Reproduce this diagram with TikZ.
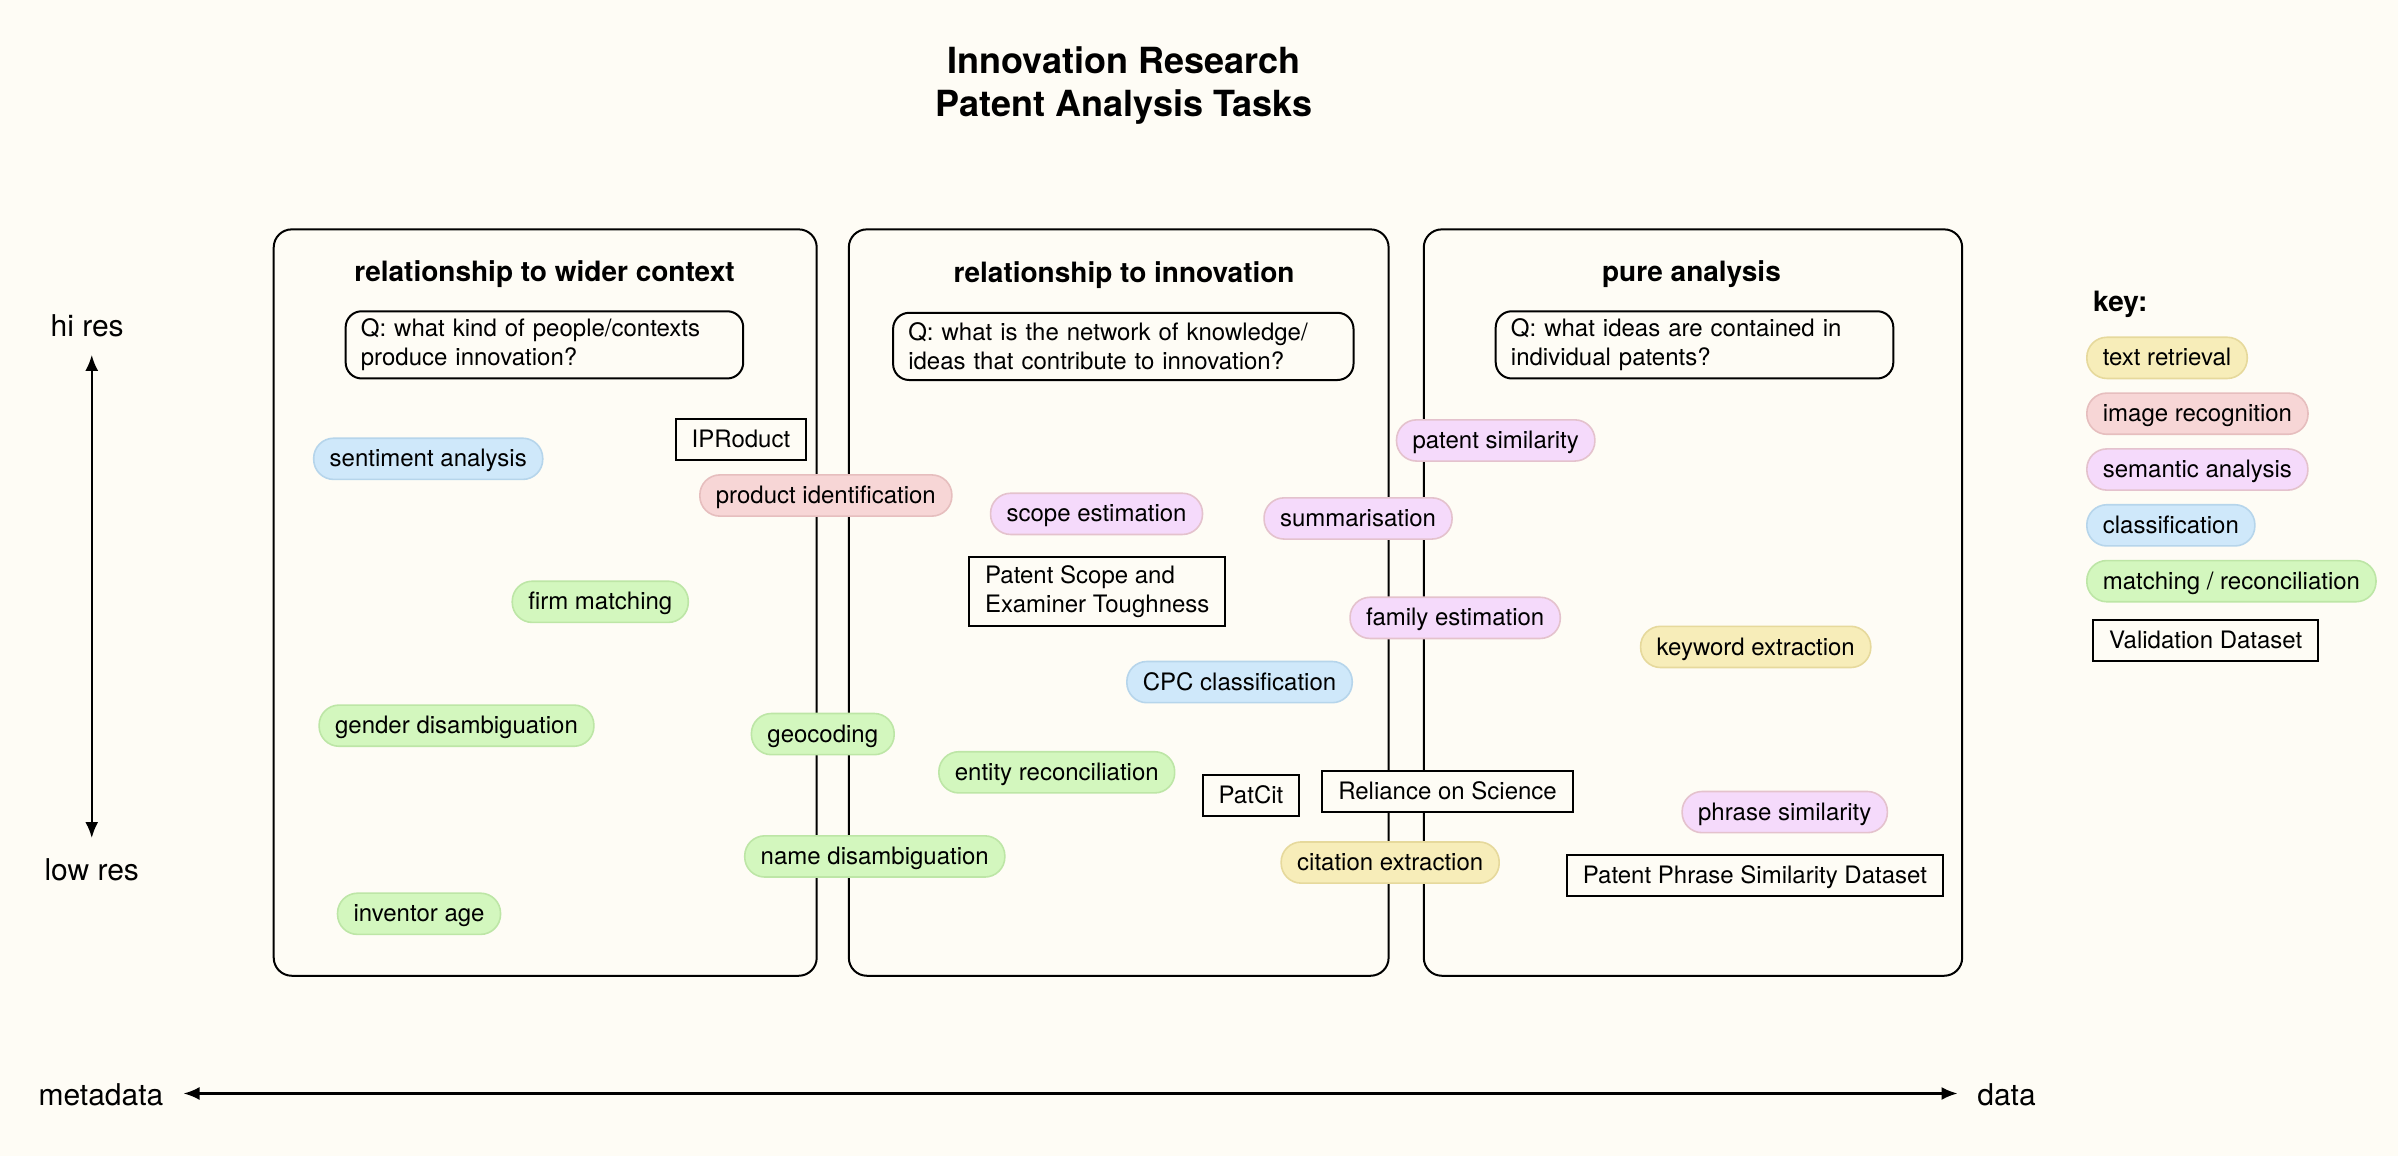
\documentclass[tikz,border=0pt]{standalone}
\usepackage{fontspec}
\setmainfont{TeX Gyre Heros}
\usetikzlibrary{arrows.meta}

\definecolor{bg}{HTML}{FEFCF5}
\definecolor{yelF}{HTML}{F7EDB9}\definecolor{yelD}{HTML}{E6D99C}
\definecolor{redF}{HTML}{F7D6D6}\definecolor{redD}{HTML}{E6BEBE}
\definecolor{purF}{HTML}{F5DAFB}\definecolor{purD}{HTML}{E4C2CD}
\definecolor{bluF}{HTML}{CFE8FA}\definecolor{bluD}{HTML}{B6D5EB}
\definecolor{grnF}{HTML}{D3F7BE}\definecolor{grnD}{HTML}{BDE6A6}

\newcommand{\normtxt}{\fontsize{12}{14.4}\selectfont}

\tikzset{
  pill/.style={line width=0.8pt, rounded corners=10pt, minimum height=20.6pt,
    inner xsep=8pt, inner ysep=0pt, text height=9.6pt, text depth=1.5pt, font=\normtxt},
  textret/.style={pill, fill=yelF, draw=yelD},
  imgrec/.style={pill, fill=redF, draw=redD},
  semana/.style={pill, fill=purF, draw=purD},
  classif/.style={pill, fill=bluF, draw=bluD},
  matchrec/.style={pill, fill=grnF, draw=grnD},
  dataset/.style={draw=black, line width=1pt, fill=bg, minimum height=20.6pt,
    inner xsep=8pt, inner ysep=0pt, font=\normtxt},
  dsline/.style={dataset, text height=9.6pt, text depth=1.5pt},
  colbox/.style={draw=black, line width=1pt, rounded corners=9pt, minimum height=373.2pt},
  qbox/.style={draw=black, line width=1pt, rounded corners=8pt, fill=bg,
    minimum height=33.6pt, inner xsep=7.6pt, inner ysep=0pt, align=left, font=\normtxt},
  heading/.style={font=\fontsize{14}{16.8}\selectfont\bfseries},
  axislabel/.style={font=\fontsize{15}{18}\selectfont},
  axis/.style={line width=1.2pt, {Latex[length=8pt,width=6.5pt]}-{Latex[length=8pt,width=6.5pt]}}
}

\begin{document}
\begin{tikzpicture}[x=0.7647pt, y=-0.7647pt]
  % canvas
  \fill[bg] (0,0) rectangle (1568,756);
  \useasboundingbox (0,0) rectangle (1568,756);

  % title
  \node[font=\fontsize{18}{21.6}\selectfont\bfseries, align=center] (title) at (735,56)
    {Innovation Research\\Patent Analysis Tasks};

  % three columns
  \node[colbox, minimum width=271.5pt] (col1) at (356.5,394) {};
  \node[colbox, minimum width=269.9pt] (col2) at (731.5,394) {};
  \node[colbox, minimum width=269.2pt] (col3) at (1107,394) {};

  \node[heading] (h1) at (356,179) {relationship to wider context};
  \node[heading] (h2) at (735,180) {relationship to innovation};
  \node[heading] (h3) at (1106,179) {pure analysis};

  \node[qbox, text width=183.6pt] (q1) at (356,225.5)
    {Q: what kind of people/contexts\\produce innovation?};
  \node[qbox, text width=215pt] (q2) at (734.5,226.5)
    {Q: what is the network of knowledge/\\ideas that contribute to innovation?};
  \node[qbox, text width=183.6pt] (q3) at (1108,225.5)
    {Q: what ideas are contained in\\individual patents?};

  % tasks and datasets
  \node[classif]  (sent)   at (280,300) {sentiment analysis};
  \node[dsline]   (iprod)  at (484.5,287.5) {IPRoduct};
  \node[imgrec]   (prodid) at (540,324) {product identification};
  \node[matchrec] (firm)   at (392.5,393.5) {firm matching};
  \node[matchrec] (gender) at (298.5,474.5) {gender disambiguation};
  \node[matchrec] (geo)    at (538,480) {geocoding};
  \node[matchrec] (name)   at (572,560) {name disambiguation};
  \node[matchrec] (age)    at (274,597.5) {inventor age};

  \node[semana]   (scope)  at (717,336) {scope estimation};
  \node[dataset, minimum width=127.7pt, minimum height=34.4pt, align=left] (pset) at (717.5,387)
    {Patent Scope and\\Examiner Toughness};
  \node[semana]   (summ)   at (888,339) {summarisation};
  \node[semana]   (psim)   at (978,288) {patent similarity};
  \node[semana]   (fam)    at (951.5,404) {family estimation};
  \node[classif]  (cpc)    at (810.5,446) {CPC classification};
  \node[matchrec] (entity) at (691,505) {entity reconciliation};
  \node[dsline]   (patcit) at (818,520) {PatCit};
  \node[dsline]   (ros)    at (946.5,517.5) {Reliance on Science};
  \node[textret]  (cite)   at (909,564) {citation extraction};

  \node[textret]  (kw)     at (1148,423) {keyword extraction};
  \node[semana]   (phr)    at (1167,531) {phrase similarity};
  \node[dsline]   (ppsd)   at (1147.5,572.5) {Patent Phrase Similarity Dataset};

  % key
  \node[heading, anchor=west] (key) at (1364,199) {key:};
  \node[textret,  anchor=west] (k1) at (1364,234) {text retrieval};
  \node[imgrec,   anchor=west] (k2) at (1364,270.5) {image recognition};
  \node[semana,   anchor=west] (k3) at (1364,307) {semantic analysis};
  \node[classif,  anchor=west] (k4) at (1364,343.5) {classification};
  \node[matchrec, anchor=west] (k5) at (1364,380) {matching / reconciliation};
  \node[dsline,   anchor=west] (k6) at (1368,419) {Validation Dataset};

  % axes
  \node[axislabel] (hi)   at (57,213) {hi res};
  \node[axislabel] (lo)   at (60,569) {low res};
  \node[axislabel] (meta) at (66,716) {metadata};
  \node[axislabel] (dat)  at (1312,716) {data};
  \coordinate (vtop) at (60,232);
  \coordinate (vbot) at (60,548);
  \coordinate (hleft) at (120,715);
  \coordinate (hright) at (1280,715);
  \draw[axis] (vtop) -- (vbot);
  \draw[axis] (hleft) -- (hright);
\end{tikzpicture}
\end{document}
